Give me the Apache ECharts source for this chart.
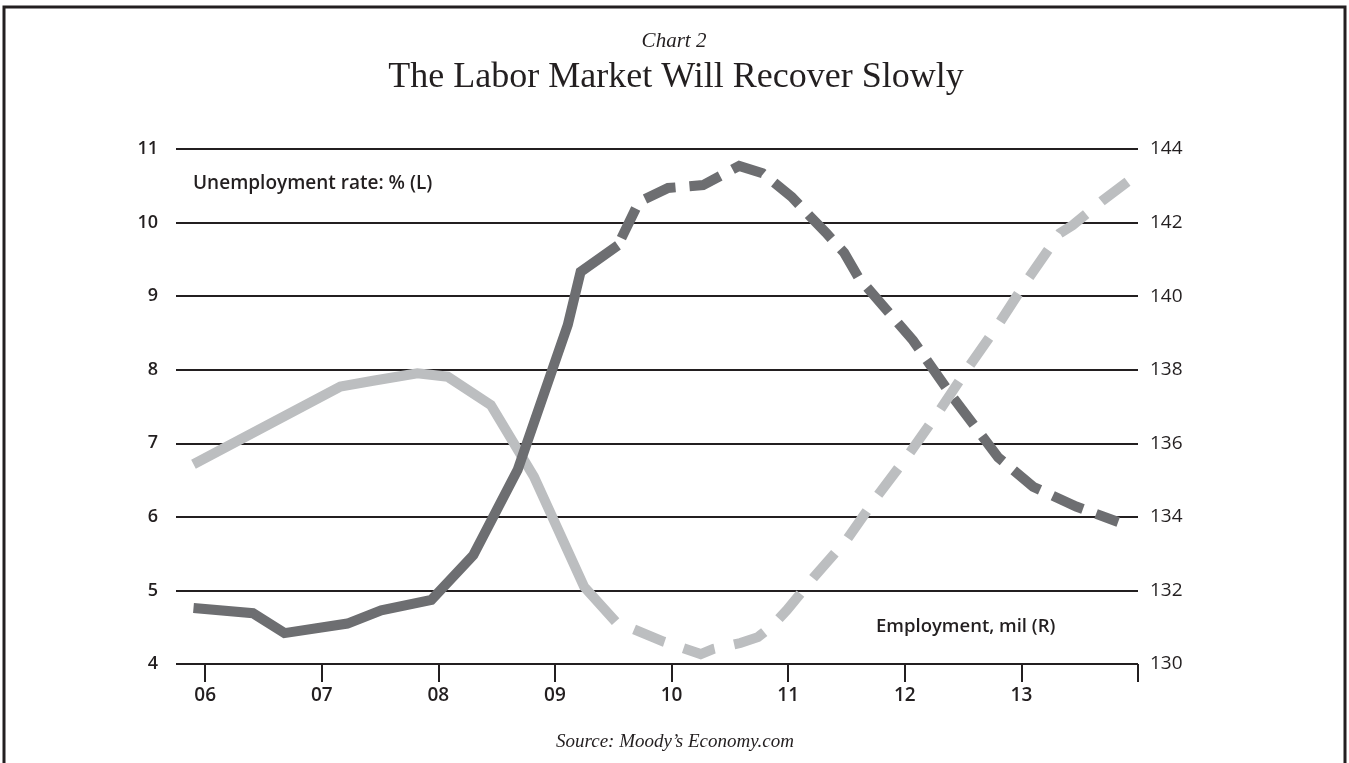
<!DOCTYPE html>
<html>
<head>
<meta charset="utf-8">
<script src="https://cdn.jsdelivr.net/npm/echarts@6/dist/echarts.min.js"></script>
<style>
  html, body { margin: 0; padding: 0; background: #fff; }
  #main { width: 1349px; height: 763px; }
</style>
</head>
<body>
<div id="main"></div>
<script>
// unemployment rate, % (left axis) - [year, value]
const unempActual = [
  [2005.90, 4.76], [2006.41, 4.69], [2006.68, 4.42], [2007.22, 4.55],
  [2007.51, 4.73], [2007.94, 4.87], [2008.30, 5.48], [2008.68, 6.64],
  [2009.11, 8.61], [2009.22, 9.33], [2009.54, 9.69]
];
const unempForecast = [
  [2009.54, 9.69], [2009.72, 10.28], [2009.97, 10.47], [2010.27, 10.51],
  [2010.58, 10.77], [2010.78, 10.67], [2011.03, 10.35], [2011.19, 10.08],
  [2011.32, 9.87], [2011.48, 9.59], [2011.60, 9.26], [2012.07, 8.40],
  [2012.41, 7.63], [2012.80, 6.81], [2013.10, 6.41], [2013.47, 6.14],
  [2013.83, 5.93]
];
// employment, mil (right axis)
const emplActual = [
  [2005.90, 135.43], [2007.16, 137.54], [2007.44, 137.70], [2007.82, 137.90],
  [2008.08, 137.81], [2008.45, 137.04], [2008.82, 135.09], [2009.25, 132.10],
  [2009.52, 131.15]
];
const emplForecast = [
  [2009.52, 131.15], [2009.93, 130.61], [2010.25, 130.27], [2010.36, 130.41],
  [2010.59, 130.57], [2010.74, 130.73], [2010.87, 131.06], [2010.99, 131.47],
  [2011.22, 132.36], [2011.50, 133.37], [2011.76, 134.55], [2012.02, 135.64],
  [2012.30, 136.90], [2012.53, 137.99], [2012.79, 139.17], [2013.05, 140.44],
  [2013.33, 141.71], [2013.44, 141.93], [2013.70, 142.61], [2013.91, 143.11]
];
const tickYears = [2006, 2007, 2008, 2009, 2010, 2011, 2012, 2013, 2014];
const labelYears = [2006, 2007, 2008, 2009, 2010, 2011, 2012, 2013];

const ink = '#231f20';
const dark = '#6d6e71';
const light = '#bcbec0';
const sans = '"Open Sans", "DejaVu Sans", sans-serif';
const serif = '"Liberation Serif", "DejaVu Serif", serif';

const chart = echarts.init(document.getElementById('main'), null, { renderer: 'canvas' });

function lineSeries(data, color, yIndex, dashed, z) {
  return {
    type: 'line',
    data: data,
    yAxisIndex: yIndex,
    symbol: 'none',
    showSymbol: false,
    z: z,
    silent: true,
    lineStyle: {
      color: color,
      width: 10,
      cap: 'butt',
      join: 'miter',
      type: dashed ? dashed.pattern : 'solid',
      dashOffset: dashed ? dashed.offset : 0
    }
  };
}

chart.setOption({
  backgroundColor: '#ffffff',
  animation: false,
  grid: { left: 176, right: 211, top: 149, bottom: 99 },
  xAxis: {
    type: 'value',
    min: 2005.75,
    max: 2014,
    axisLine: { show: false },
    splitLine: { show: false },
    axisTick: {
      show: true,
      customValues: tickYears,
      length: 18,
      lineStyle: { color: ink, width: 2 }
    },
    axisLabel: {
      customValues: labelYears,
      formatter: v => String(v).slice(2),
      margin: 22,
      color: ink,
      fontFamily: sans,
      fontWeight: 600,
      fontSize: 19
    }
  },
  yAxis: [{
    type: 'value',
    min: 4,
    max: 11,
    interval: 1,
    axisLine: { show: false },
    axisTick: { show: false },
    splitLine: { lineStyle: { color: ink, width: 2 } },
    axisLabel: { margin: 18, color: ink, fontFamily: sans, fontWeight: 600, fontSize: 18 }
  }, {
    type: 'value',
    min: 130,
    max: 144,
    interval: 2,
    axisLine: { show: false },
    axisTick: { show: false },
    splitLine: { show: false },
    axisLabel: { margin: 12, color: ink, fontFamily: sans, fontSize: 19 }
  }],
  series: [
    lineSeries(emplActual, light, 1, null, 2),
    lineSeries(unempActual, dark, 0, null, 3),
    lineSeries(unempForecast, dark, 0, { pattern: [33, 14], offset: 39 }, 4),
    lineSeries(emplForecast, light, 1, { pattern: [33, 20], offset: 33 }, 5)
  ],
  graphic: [
    { type: 'polyline', silent: true, shape: { points: [[4, 763], [4, 7], [1345, 7], [1345, 763]] },
      style: { stroke: ink, lineWidth: 3, fill: null } },
    { type: 'text', silent: true, x: 674, y: 41,
      style: { text: 'Chart 2', font: 'italic 21px ' + serif, fill: ink, textAlign: 'center', textVerticalAlign: 'middle' } },
    { type: 'text', silent: true, x: 676, y: 78,
      style: { text: 'The Labor Market Will Recover Slowly', font: '36px ' + serif, fill: ink, textAlign: 'center', textVerticalAlign: 'middle' } },
    { type: 'text', silent: true, x: 193, y: 184,
      style: { text: 'Unemployment rate: % (L)', font: '600 19px ' + sans, fill: ink, textAlign: 'left', textVerticalAlign: 'middle' } },
    { type: 'text', silent: true, x: 876, y: 627,
      style: { text: 'Employment, mil (R)', font: '600 18.5px ' + sans, fill: ink, textAlign: 'left', textVerticalAlign: 'middle' } },
    { type: 'text', silent: true, x: 675, y: 742,
      style: { text: 'Source: Moody\u2019s Economy.com', font: 'italic 19px ' + serif, fill: ink, textAlign: 'center', textVerticalAlign: 'middle' } }
  ]
});
</script>
</body>
</html>
